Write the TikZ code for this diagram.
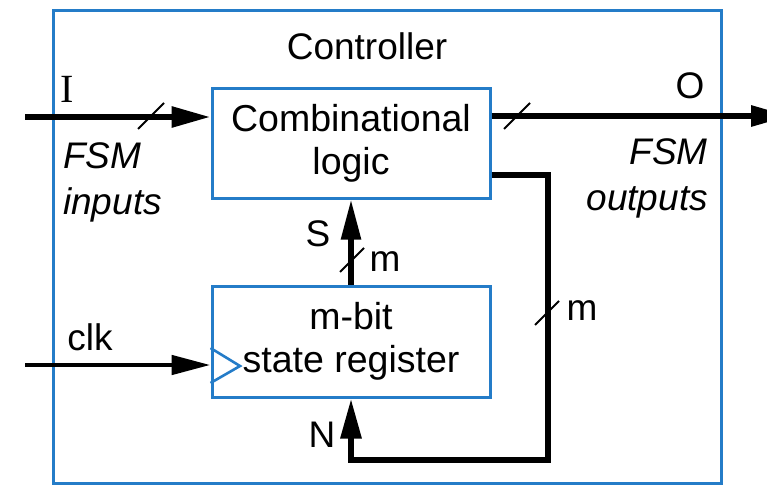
\documentclass[tikz,border=0pt]{standalone}
\usepackage{fontspec}
\setmainfont{Liberation Sans}
\newfontfamily\serifsym{Liberation Serif}
\usetikzlibrary{arrows.meta}
\definecolor{boxblue}{RGB}{36,124,200}
\tikzset{
  blk/.style={draw=boxblue, line width=3pt, minimum width=278pt, minimum height=110pt, inner sep=0pt, align=center, font=\fontsize{37.5}{43}\selectfont},
  bus/.style={line width=6pt, -{Triangle[length=39pt, width=20pt]}},
  plain/.style={line width=6pt},
  slash/.style={line width=1.9pt},
  lbl/.style={font=\fontsize{37}{46}\selectfont, inner sep=0pt},
}
\begin{document}
\begin{tikzpicture}[x=1pt, y=-1pt]
\useasboundingbox (0,0) rectangle (767,487);

% enclosing controller frame
\node[draw=boxblue, line width=3pt, minimum width=668pt, minimum height=472pt, inner sep=0pt] (ctrl) at (387,247) {};
\node[lbl] (title) at (367,46) {Controller};

% the two blocks
\node[blk] (comb) at (351,143) {Combinational\\logic};
\node[blk, minimum height=111pt] (reg) at (351,341.5) {m-bit\\state register};

% clock input marker
\draw[boxblue, line width=2.6pt] (reg.west |- 0,348) -- (240,366) -- (reg.west |- 0,383);

% free ends of the external signals
\coordinate (inL) at (25,117);
\coordinate (outR) at (790,116);
\coordinate (clkL) at (25,365);
\coordinate (fbcorner) at (548,460);

% FSM inputs
\draw[bus] (inL) -- (inL -| comb.west);
% FSM outputs
\draw[bus] (comb.east |- outR) -- (outR);
% clock
\draw[line width=4.8pt, -{Triangle[length=39pt, width=19pt]}] (clkL) -- (clkL -| reg.west);
% state S
\draw[line width=5.5pt, -{Triangle[length=40pt, width=19pt]}] (reg.north) -- (comb.south);
% next state N feedback
\draw[plain, line join=miter, -{Triangle[length=40pt, width=20pt]}] (comb.east |- 0,175) -| (fbcorner) -| (reg.south);

% bus width marks
\draw[slash] (151,116) ++(-13,13) -- ++(26,-26);
\draw[slash] (517,116) ++(-13,13) -- ++(26,-26);
\draw[slash] (352,260) ++(-12,12) -- ++(24,-24);
\draw[slash] (547,313) ++(-12,12) -- ++(24,-24);

% signal labels
\node[lbl, font=\fontsize{40}{46}\selectfont] (lI) at (67,89) {\serifsym I};
\node[lbl] (lO) at (690,86) {O};
\node[lbl, anchor=north west, align=left, font=\fontsize{37}{46}\itshape] (lin) at (63,142) {FSM\\inputs};
\node[lbl, anchor=north east, align=right, font=\fontsize{37}{46}\itshape] (lout) at (708,138) {FSM\\outputs};
\node[lbl] (lclk) at (90,337) {clk};
\node[lbl] (lS) at (318,234) {S};
\node[lbl] (lm1) at (385,262) {m};
\node[lbl] (lm2) at (582,311) {m};
\node[lbl] (lN) at (322,435) {N};
\end{tikzpicture}
\end{document}
